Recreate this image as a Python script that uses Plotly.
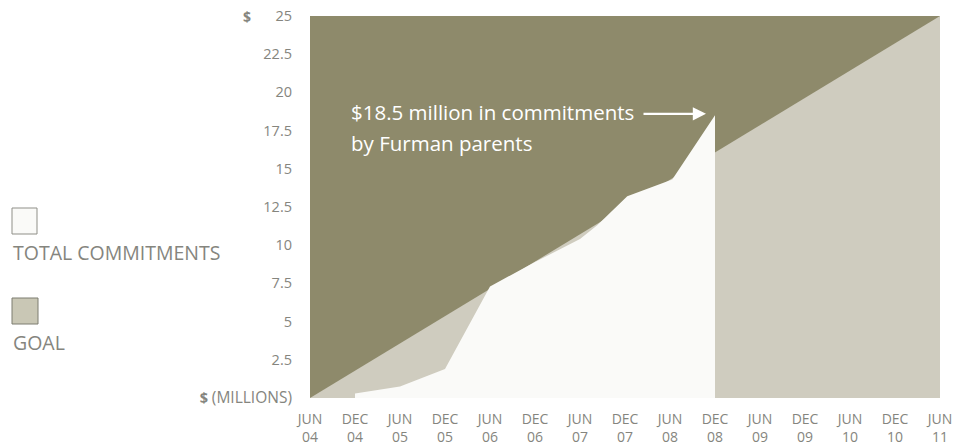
import plotly.graph_objects as go

# x in months since June 2004
tick_months = [0, 6, 12, 18, 24, 30, 36, 42, 48, 54, 60, 66, 72, 78, 84]
tick_labels = ["JUN<br>04", "DEC<br>04", "JUN<br>05", "DEC<br>05", "JUN<br>06",
               "DEC<br>06", "JUN<br>07", "DEC<br>07", "JUN<br>08", "DEC<br>08",
               "JUN<br>09", "DEC<br>09", "JUN<br>10", "DEC<br>10", "JUN<br>11"]

goal_months = [0, 84]
goal_values = [0, 25]

commit_months = [6, 6, 12, 18, 24, 30, 36, 38.3, 42.3, 48.3, 54, 54]
commit_values = [0, 0.3, 0.75, 1.9, 7.3, 8.9, 10.4, 11.3, 13.2, 14.3, 18.5, 0]

y_ticks = [0, 2.5, 5, 7.5, 10, 12.5, 15, 17.5, 20, 22.5, 25]
y_labels = ["<b>$</b> <span style='font-size:15.5px'>(MILLIONS)</span>", "2.5", "5", "7.5",
            "10", "12.5", "15", "17.5", "20", "22.5", "25"]

DARK = "#8e8a6b"
LIGHT = "#cfccbf"
WHITE = "#fafaf8"
GREY = "#85857e"
FONT = "Open Sans"

fig = go.Figure()
fig.add_trace(go.Scatter(x=goal_months, y=goal_values, mode="lines", fill="tozeroy",
                         fillcolor=LIGHT, line=dict(width=0, color=LIGHT),
                         hoverinfo="skip", showlegend=False))
fig.add_trace(go.Scatter(x=commit_months, y=commit_values, mode="lines", fill="toself",
                         fillcolor=WHITE, line=dict(width=0, color=WHITE),
                         hoverinfo="skip", showlegend=False))

W, H = 954, 445
PL, PR, PT, PB = 310, 940, 16, 398  # plot area in page pixels
L, T = PL, PT
R = W - PR
B = H - PB
pw, ph = PR - PL, PB - PT

def px(xp):
    return (xp - PL) / pw

def py(yp):
    return (PB - yp) / ph

fig.update_layout(
    width=W, height=H,
    margin=dict(l=L, r=R, t=T, b=B, autoexpand=False),
    paper_bgcolor="white",
    plot_bgcolor=DARK,
    font=dict(family=FONT, color=GREY, size=14),
    xaxis=dict(range=[0, 84], tickmode="array", tickvals=tick_months, ticktext=tick_labels,
               showgrid=False, zeroline=False, showline=False, ticks="",
               ticklabelstandoff=11, automargin=False, ticklabeloverflow="allow",
               tickfont=dict(size=14, color=GREY), fixedrange=True),
    yaxis=dict(range=[0, 25], tickmode="array", tickvals=y_ticks, ticktext=y_labels,
               showgrid=False, zeroline=False, showline=False, ticks="",
               ticklabelstandoff=17, automargin=False, ticklabeloverflow="allow",
               tickfont=dict(size=14.5, color=GREY), fixedrange=True),
)

annotations = [
    dict(x=px(247), y=25, xref="paper", yref="y", text="<b>$</b>", showarrow=False,
         font=dict(size=14, color=GREY), xanchor="center", yanchor="middle"),
    dict(x=5.2, y=18.72, xref="x", yref="y", text="$18.5 million in commitments",
         showarrow=False, xanchor="left", yanchor="middle", font=dict(size=20.5, color="white")),
    dict(x=5.2, y=16.69, xref="x", yref="y", text="by Furman parents",
         showarrow=False, xanchor="left", yanchor="middle", font=dict(size=20.5, color="white")),
    dict(x=52.8, y=18.6, xref="x", yref="y", text="", showarrow=True,
         ax=-64, ay=0, arrowhead=2, arrowsize=1.2, arrowwidth=2.2, arrowcolor="white"),
    dict(x=px(11), y=py(252), xref="paper", yref="paper", text="TOTAL COMMITMENTS",
         showarrow=False, xanchor="left", yanchor="middle", font=dict(size=19.5, color=GREY)),
    dict(x=px(11), y=py(342), xref="paper", yref="paper", text="GOAL",
         showarrow=False, xanchor="left", yanchor="middle", font=dict(size=19.5, color=GREY)),
]
fig.update_layout(annotations=annotations)

shapes = [
    dict(type="rect", xref="paper", yref="paper", x0=px(12), x1=px(37), y0=py(234), y1=py(208),
         fillcolor=WHITE, line=dict(color="#8f8f88", width=1)),
    dict(type="rect", xref="paper", yref="paper", x0=px(12), x1=px(38), y0=py(324), y1=py(298),
         fillcolor="#c9c7b5", line=dict(color="#7d7d70", width=1)),
]
fig.update_layout(shapes=shapes)

fig.write_html("out.html", config={"displayModeBar": False, "staticPlot": True},
               post_script="document.body.style.margin='0';document.body.style.overflow='hidden';")
